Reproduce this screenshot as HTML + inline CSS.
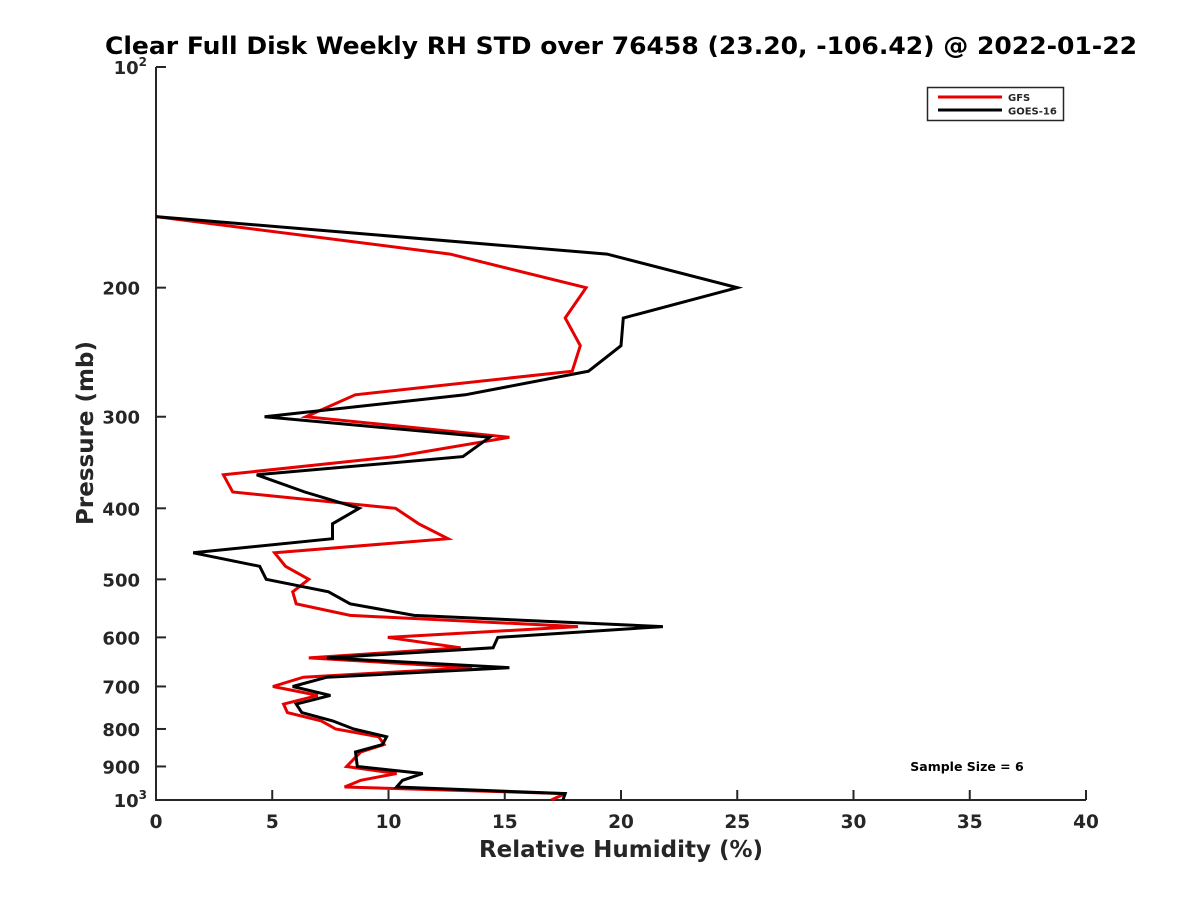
<!DOCTYPE html>
<html><head><meta charset="utf-8"><style>
body{margin:0;background:#fff;}
svg{display:block;font-family:"DejaVu Sans","Liberation Sans",sans-serif;font-weight:bold;}
</style></head><body>
<svg id="c" width="1200" height="900">
<rect width="1200" height="900" fill="#fff"/>
</svg>
<script>
const pressureLevels=[160,180,200,220,240,260,280,300,320,340,360,380,400,420,440,460,480,500,520,540,560,580,600,620,640,660,680,700,720,740,760,780,800,820,840,860,880,900,920,940,960,980,1000];
const goesValues=[0,19.4,25,20.1,20.0,18.6,13.3,4.67,14.35,13.2,4.33,6.4,8.74,7.59,7.59,1.6,4.46,4.74,7.42,8.35,11.1,21.8,14.7,14.5,7.35,15.2,7.35,5.88,7.5,6.03,6.27,7.6,8.5,9.92,9.74,8.58,8.62,8.66,11.47,10.6,10.35,17.6,17.5];
const gfsValues=[0,12.65,18.5,17.6,18.25,17.9,8.57,6.45,15.2,10.3,2.9,3.3,10.3,11.3,12.56,5.1,5.57,6.57,5.88,6.03,8.35,18.15,9.97,13.1,6.57,13.6,6.34,5.03,6.96,5.49,5.65,7.11,7.73,9.58,9.81,8.81,8.5,8.2,10.35,8.81,8.11,17.6,17.0];
const xTicks=[0,5,10,15,20,25,30,35,40];
const yTickLabels=[200,300,400,500,600,700,800,900];

const svg=document.getElementById('c');
const NS='http://www.w3.org/2000/svg';
const X0=156,X1=1086,Y0=67,Y1=800;
const xs=v=>X0+(v-0)/(40-0)*(X1-X0);
const ys=p=>Y0+(Math.log10(p)-2)*(Y1-Y0);
function mk(t,a){const e=document.createElementNS(NS,t);for(const k in a)e.setAttribute(k,a[k]);svg.appendChild(e);return e;}

let ax=mk('path',{d:`M${X0},${Y0}L${X0},${Y1}L${X1},${Y1}`,fill:'none',stroke:'#262626','stroke-width':2});



xTicks.forEach(v=>{
  const x=xs(v);
  const t=mk('line',{x1:x,y1:Y1,x2:x,y2:Y1-10,stroke:'#262626','stroke-width':2});
  
  
  const l=mk('text',{x:x,y:Y1+28,'text-anchor':'middle','font-size':18.5,fill:'#262626'});
  l.textContent=v;
  
  
});
for(let p=100;p<=1000;p+=100){
  const y=ys(p);
  const t=mk('line',{x1:X0,y1:y,x2:X0+10,y2:y,stroke:'#262626','stroke-width':2});
  
  
}
yTickLabels.forEach(p=>{
  const l=mk('text',{x:X0-16,y:ys(p)+7,'text-anchor':'end','font-size':18,fill:'#262626'});
  l.textContent=p;
  
  
});
[[100,'2'],[1000,'3']].forEach(([p,e])=>{
  const l=mk('text',{x:X0-9,y:ys(p)+7,'text-anchor':'end','font-size':18,fill:'#262626'});
  l.innerHTML='10<tspan dy="-8" font-size="12">'+e+'</tspan>';
  
  
});

function series(vals,color,name){
  const d=vals.map((v,i)=>(i?'L':'M')+xs(v).toFixed(1)+','+ys(pressureLevels[i]).toFixed(1)).join('');
  const e=mk('path',{d:d,fill:'none',stroke:color,'stroke-width':3,'stroke-linejoin':'miter'});
  
  
}
series(gfsValues,'#e60000','gfs-line');
series(goesValues,'#000','goes-16-line');

let t=mk('text',{x:105,y:54,'font-size':24,fill:'#000',textLength:1032,lengthAdjust:'spacingAndGlyphs'});
t.textContent='Clear Full Disk Weekly RH STD over 76458 (23.20, -106.42) @ 2022-01-22';


t=mk('text',{x:621,y:857,'text-anchor':'middle','font-size':23,fill:'#262626'});
t.textContent='Relative Humidity (%)';


t=mk('text',{x:0,y:0,'text-anchor':'middle','font-size':23,fill:'#262626',transform:'translate(93,433) rotate(-90)'});
t.textContent='Pressure (mb)';


t=mk('text',{x:967,y:771,'text-anchor':'middle','font-size':12.5,fill:'#000'});
t.textContent='Sample Size = 6';



const g=mk('g',{});


g.innerHTML='<rect x="927.5" y="87.5" width="136" height="33" fill="#fff" stroke="#262626" stroke-width="1.5"/>'+
'<line x1="938" y1="97" x2="1002" y2="97" stroke="#e60000" stroke-width="3"/>'+
'<line x1="938" y1="110" x2="1002" y2="110" stroke="#000" stroke-width="3"/>'+
'<text x="1008" y="101" font-size="10" fill="#262626">GFS</text>'+
'<text x="1008" y="114.5" font-size="10" fill="#262626">GOES-16</text>';
</script>
</body></html>
